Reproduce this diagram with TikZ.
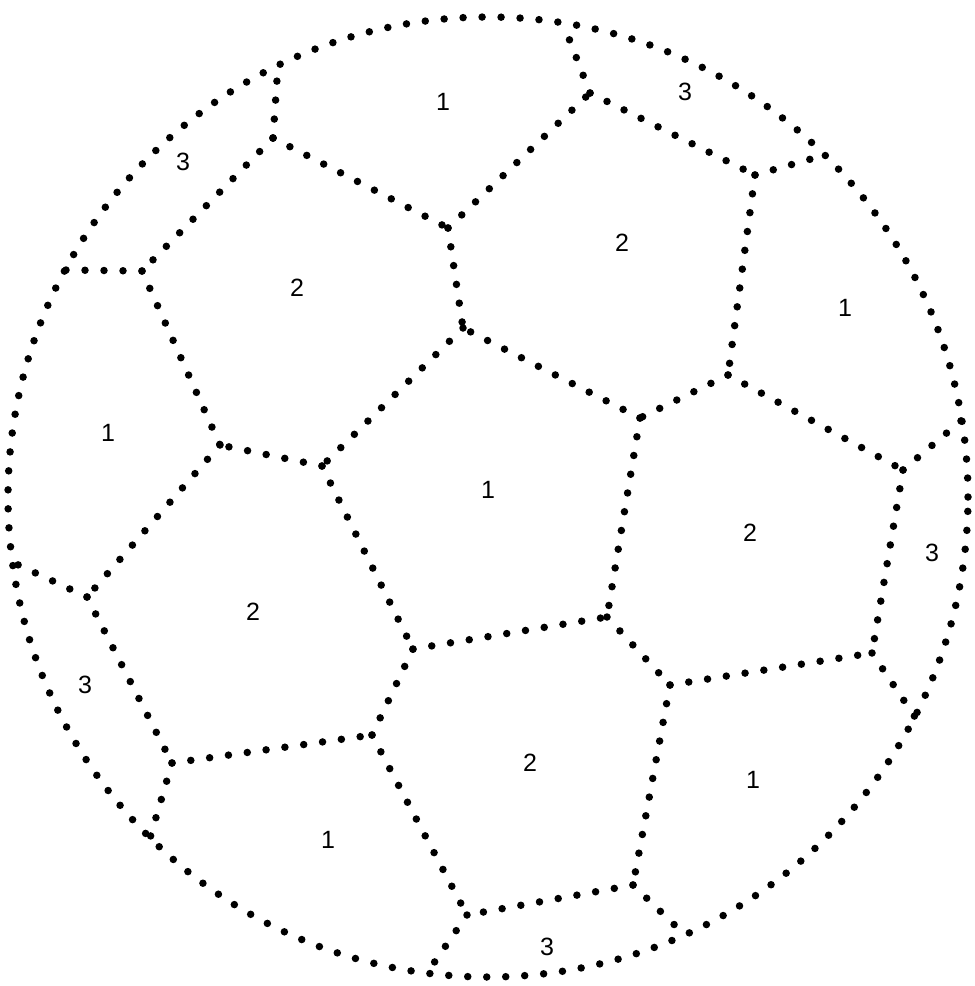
\documentclass[tikz,border=0pt]{standalone}
\usepackage{fontspec}
\setmainfont{Liberation Sans}
\begin{document}
\begin{tikzpicture}[x=1pt,y=-1pt,
  dotline/.style={line width=7.5pt,line cap=round,dash pattern=on 0pt off 19pt},
  lab/.style={font=\fontsize{25}{25}\selectfont,inner sep=0pt}]
\useasboundingbox (0,0) rectangle (975,986);
\fill[white] (0,0) rectangle (975,986);
\coordinate (ctr) at (488,497);
% junctions on the outer circle
\coordinate (j1) at (278,65);
\coordinate (j2) at (563,23);
\coordinate (j3) at (825,155);
\coordinate (j4) at (962,420);
\coordinate (j5) at (915,717);
\coordinate (j6) at (685,935);
\coordinate (j7) at (427,973);
\coordinate (j8) at (150,838);
\coordinate (j9) at (12,562);
\coordinate (j10) at (65,270);
% inner vertices
\coordinate (A) at (273,138);
\coordinate (B) at (142,271);
\coordinate (C) at (448,228);
\coordinate (D) at (590,93);
\coordinate (E) at (463,328);
\coordinate (F) at (322,466);
\coordinate (G) at (220,445);
\coordinate (H) at (87,597);
\coordinate (I) at (172,763);
\coordinate (J) at (372,735);
\coordinate (K) at (413,649);
\coordinate (L) at (607,617);
\coordinate (M) at (467,915);
\coordinate (N) at (670,685);
\coordinate (O) at (872,653);
\coordinate (P) at (903,470);
\coordinate (S) at (633,885);
\coordinate (T) at (755,175);
\coordinate (V) at (728,375);
\coordinate (W) at (640,418);
% outer boundary
\draw[dotline] (ctr) circle (480pt);
% edges
\foreach \a/\b in {A/j1,A/B,A/C,B/j10,B/G,C/D,C/E,D/j2,D/T,T/j3,T/V,V/W,V/P,P/j4,P/O,
  W/E,W/L,E/F,F/G,F/K,G/H,H/j9,H/I,I/j8,I/J,J/K,J/M,K/L,L/N,N/O,N/S,O/j5,S/M,S/j6,M/j7}
  \draw[dotline] (\a) -- (\b);
% labels
\node[lab] (t1) at (443,102) {1};
\node[lab] (t2) at (183,162) {3};
\node[lab] (t3) at (297,288) {2};
\node[lab] (t4) at (108,433) {1};
\node[lab] (t5) at (685,92) {3};
\node[lab] (t6) at (622,243) {2};
\node[lab] (t7) at (845,308) {1};
\node[lab] (t8) at (488,490) {1};
\node[lab] (t9) at (253,612) {2};
\node[lab] (t10) at (85,685) {3};
\node[lab] (t11) at (328,840) {1};
\node[lab] (t12) at (750,533) {2};
\node[lab] (t13) at (932,553) {3};
\node[lab] (t14) at (530,763) {2};
\node[lab] (t15) at (753,780) {1};
\node[lab] (t16) at (547,947) {3};
\end{tikzpicture}
\end{document}
